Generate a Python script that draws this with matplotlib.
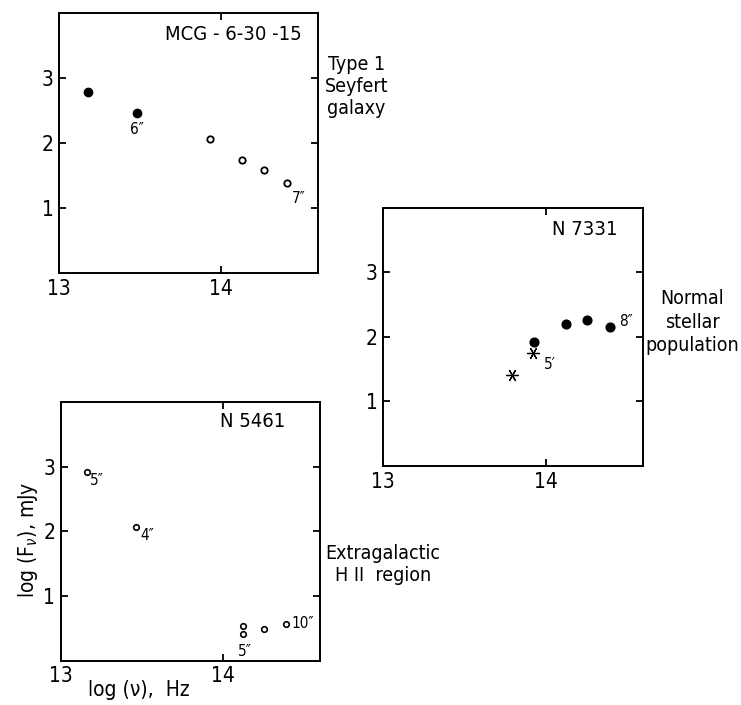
#!/usr/bin/env python3
"""Spectral energy points for three galaxy regions."""

import matplotlib
matplotlib.use("Agg")
import matplotlib.pyplot as plt

plt.rcParams["font.family"] = ["DejaVu Sans"]
plt.rcParams["font.stretch"] = "condensed"

# MCG-6-30-15 (Type 1 Seyfert)
seyfert_nu_filled = [13.18, 13.48]
seyfert_f_filled = [2.78, 2.46]
seyfert_nu_open = [13.93, 14.13, 14.265, 14.41]
seyfert_f_open = [2.06, 1.74, 1.59, 1.39]

# N 7331 (normal stellar population)
n7331_nu_filled = [13.93, 14.125, 14.257, 14.397]
n7331_f_filled = [1.93, 2.20, 2.26, 2.155]
n7331_nu_star = [13.924, 13.794]
n7331_f_star = [1.75, 1.41]

# N 5461 (extragalactic HII region)
n5461_nu_open = [13.165, 13.464, 14.127, 14.127, 14.255, 14.39]
n5461_f_open = [2.92, 2.07, 0.545, 0.42, 0.49, 0.57]


def style_axes(ax, title, tx, ty):
    """Box with inward ticks on every side, like the printed figure."""
    ax.set_xlim(13, 14.6)
    ax.set_ylim(0, 4)
    ax.set_xticks([13, 14])
    ax.set_yticks([1, 2, 3])
    ax.tick_params(direction="in", top=True, right=True, length=5,
                   width=1.3, labelsize=15, pad=4)
    for s in ax.spines.values():
        s.set_linewidth(1.4)
    ax.text(tx, ty, title, transform=ax.transAxes, ha="right",
            va="center", fontsize=14.5)


fig = plt.figure(figsize=(7.41, 7.05), dpi=100)

# top-left panel
ax1 = fig.add_axes([0.0796, 0.6128, 0.3495, 0.3688])
style_axes(ax1, "MCG - 6-30 -15", 0.938, 0.919)
ax1.plot(seyfert_nu_filled, seyfert_f_filled, "o", color="black", ms=6)
ax1.plot(seyfert_nu_open, seyfert_f_open, "o", mfc="white", mec="black",
         ms=4.6, mew=1.3)
ax1.text(seyfert_nu_filled[1], seyfert_f_filled[1] - 0.25, "6″",
         ha="center", va="center", fontsize=11)
ax1.text(seyfert_nu_open[3] + 0.07, seyfert_f_open[3] - 0.25, "7″",
         ha="center", va="center", fontsize=11)
fig.text(0.481, 0.878, "Type 1\nSeyfert\ngalaxy", ha="center", va="center",
         fontsize=14, linespacing=1.2)

# right panel
ax2 = fig.add_axes([0.5169, 0.339, 0.3509, 0.366])
style_axes(ax2, "N 7331", 0.90, 0.915)
ax2.plot(n7331_nu_filled, n7331_f_filled, "o", color="black", ms=6.3)
ax2.plot(n7331_nu_star, n7331_f_star, marker=(6, 2, 90), ls="none",
         color="black", ms=9, mew=0.9)
ax2.text(n7331_nu_filled[3] + 0.1, n7331_f_filled[3] + 0.08, "8″",
         ha="center", va="center", fontsize=11)
ax2.text(n7331_nu_star[0] + 0.1, n7331_f_star[0] - 0.18, "5′",
         ha="center", va="center", fontsize=11)
fig.text(0.934, 0.543, "Normal\nstellar\npopulation", ha="center",
         va="center", fontsize=14, linespacing=1.3)

# bottom-left panel
ax3 = fig.add_axes([0.0819, 0.0628, 0.35, 0.3666])
style_axes(ax3, "N 5461", 0.866, 0.925)
ax3.plot(n5461_nu_open, n5461_f_open, "o", mfc="white", mec="black",
         ms=4, mew=1.2)
ax3.text(n5461_nu_open[0] + 0.06, n5461_f_open[0] - 0.13, "5″",
         ha="center", va="center", fontsize=11)
ax3.text(n5461_nu_open[1] + 0.07, n5461_f_open[1] - 0.13, "4″",
         ha="center", va="center", fontsize=11)
ax3.text(n5461_nu_open[2] + 0.01, n5461_f_open[3] - 0.28, "5″",
         ha="center", va="center", fontsize=11)
ax3.text(n5461_nu_open[5] + 0.1, n5461_f_open[5] + 0.0, "10″",
         ha="center", va="center", fontsize=11)
ax3.set_ylabel("log (F$_{\\nu}$), mJy", fontsize=15)
ax3.yaxis.set_label_coords(-0.08, 0.47)
ax3.set_xlabel("log (ν),  Hz", fontsize=15)
ax3.xaxis.set_label_coords(0.30, -0.075)
fig.text(0.517, 0.1986, "Extragalactic\nH II  region", ha="center",
         va="center", fontsize=14, linespacing=1.2)

fig.savefig("out.png", dpi=100)
